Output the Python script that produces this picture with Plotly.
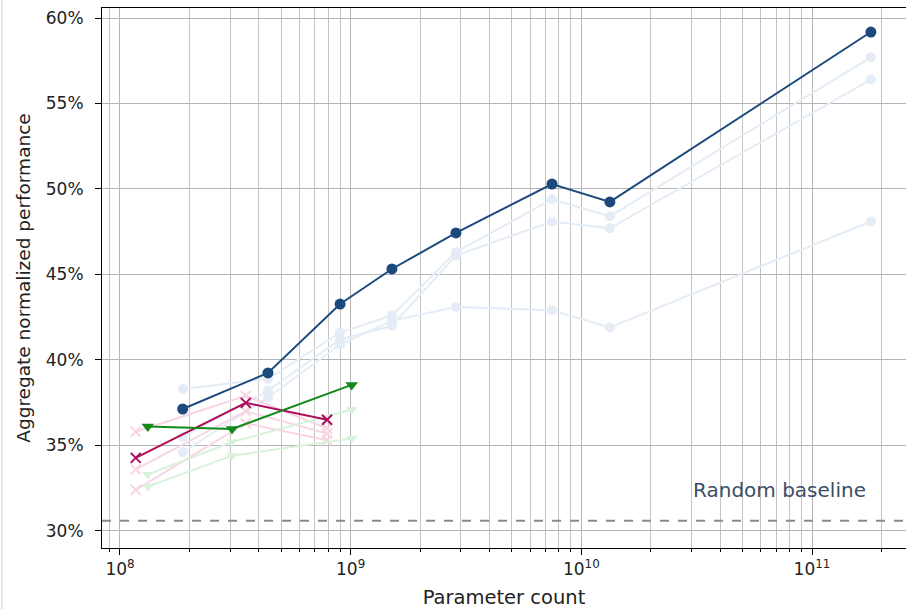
import plotly.graph_objects as go

# ---- data ----
blue_x = [1.87e8, 4.38e8, 9.0e8, 1.51e9, 2.86e9, 7.46e9, 1.33e10, 1.80e11]
blue_main = [37.13, 39.24, 43.27, 45.32, 47.43, 50.29, 49.24, 59.18]
blue_faded = [
    [38.3, 38.9, 41.6, 42.6, 46.3, 49.4, 48.4, 57.7],
    [35.5, 38.2, 41.2, 42.0, 46.1, 48.1, 47.7, 56.4],
    [34.6, 37.8, 40.9, 42.3, 43.1, 42.9, 41.9, 48.1],
]
red_x = [1.17e8, 3.51e8, 7.9e8]
red_main = [34.27, 37.49, 36.5]
red_faded = [
    [35.8, 37.9, 36.0],
    [33.6, 37.0, 35.7],
    [32.4, 36.3, 35.3],
]
green_x = [1.32e8, 3.06e8, 1.01e9]
green_main = [36.1, 35.96, 38.54]
green_faded = [
    [33.3, 35.2, 37.1],
    [32.6, 34.4, 35.4],
]
random_baseline = 30.6
x_tickvals = [1e8, 1e9, 1e10, 1e11]
x_ticktext = ["10<sup>8</sup>", "10<sup>9</sup>", "10<sup>10</sup>", "10<sup>11</sup>"]
y_tickvals = [30, 35, 40, 45, 50, 55, 60]
y_ticktext = ["30%", "35%", "40%", "45%", "50%", "55%", "60%"]

fig = go.Figure()

def add(x, y, color, symbol, size, width):
    fig.add_trace(go.Scatter(x=x, y=y, mode="lines+markers",
                             line=dict(color=color, width=width),
                             marker=dict(color=color, symbol=symbol, size=size,
                                         line=dict(width=0)),
                             showlegend=False, hoverinfo="skip"))

for s in blue_faded:
    add(blue_x, s, "#e4ecf6", "circle", 10, 2)
for s in red_faded:
    fig.add_trace(go.Scatter(x=red_x, y=s, mode="lines+markers",
                             line=dict(color="#f7d5e3", width=2),
                             marker=dict(color="#f7d5e3", symbol="x-thin-open", size=10,
                                         line=dict(width=2, color="#f7d5e3")),
                             showlegend=False, hoverinfo="skip"))
for s in green_faded:
    add(green_x, s, "#d8f2db", "triangle-down", 10, 2)

add(blue_x, blue_main, "#1d4a7c", "circle", 11, 2)
fig.add_trace(go.Scatter(x=red_x, y=red_main, mode="lines+markers",
                         line=dict(color="#ad0e5b", width=2),
                         marker=dict(color="#ad0e5b", symbol="x-thin-open", size=10,
                                     line=dict(width=2, color="#ad0e5b")),
                         showlegend=False, hoverinfo="skip"))
add(green_x, green_main, "#138a1c", "triangle-down", 11, 2)

fig.add_hline(y=random_baseline, line=dict(color="#8a8a8a", width=2, dash="dash"))
fig.add_annotation(x=10.861, y=32.4, xref="x", yref="y", text="Random baseline",
                   showarrow=False, xanchor="center", yanchor="middle",
                   font=dict(size=20, color="#3b4e66", family="DejaVu Sans"))

fig.add_shape(type="line", xref="paper", yref="paper", x0=-0.1244, x1=-0.1244,
              y0=-0.13, y1=1.02, line=dict(color="#cccccc", width=1))

fig.update_xaxes(type="log", range=[7.922, 11.4075], automargin=False,
                 tickvals=x_tickvals, ticktext=x_ticktext,
                 showgrid=True, gridcolor="#b5b5b5", gridwidth=1,
                 minor=dict(dtick="D1", showgrid=True, gridcolor="#c4c4c4",
                            ticks="outside", ticklen=3, tickcolor="black"),
                 ticks="outside", ticklen=6, tickcolor="black",
                 showline=True, linecolor="black", linewidth=1, mirror=True,
                 zeroline=False,
                 tickfont=dict(size=17, color="#222", family="DejaVu Sans"),
                 title=dict(text="Parameter count", standoff=14,
                            font=dict(size=19.5, color="#222", family="DejaVu Sans")))
fig.update_yaxes(range=[29.0, 60.585], tickvals=y_tickvals, ticktext=y_ticktext,
                 automargin=False, ticklabelstandoff=8,
                 showgrid=True, gridcolor="#b5b5b5", gridwidth=1,
                 ticks="outside", ticklen=6, tickcolor="black",
                 showline=True, linecolor="black", linewidth=1, mirror=True,
                 zeroline=False,
                 tickfont=dict(size=17, color="#222", family="DejaVu Sans"),
                 title=dict(text="Aggregate normalized performance", standoff=10,
                            font=dict(size=18.5, color="#222", family="DejaVu Sans")))

fig.update_layout(width=906, height=609, margin=dict(l=102, r=0, t=8, b=61),
                  plot_bgcolor="white", paper_bgcolor="white",
                  font=dict(family="DejaVu Sans"))

fig.write_html("out.html", config={"displayModeBar": False},
               post_script="document.body.style.margin='0';document.body.style.overflow='hidden';")
